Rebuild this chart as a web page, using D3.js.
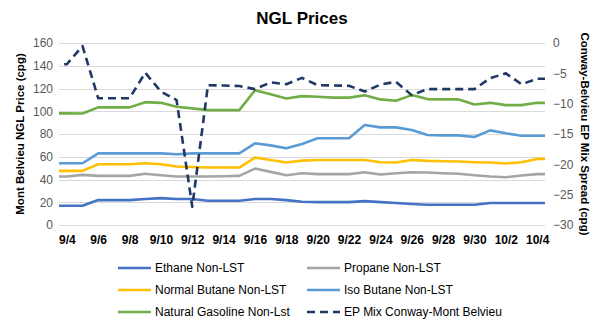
<!DOCTYPE html>
<html>
<head>
<meta charset="utf-8">
<script src="https://cdn.jsdelivr.net/npm/d3@7/dist/d3.min.js"></script>
<style>
html,body{margin:0;padding:0;background:#fff;}
svg{display:block;}
</style>
</head>
<body>
<svg id="chart" width="603" height="322"></svg>
<script>
// ---- data (daily, 9/3 .. 10/5; plot window shows 9/4 .. 10/4) ----
const dates = ["9/3","9/4","9/5","9/6","9/7","9/8","9/9","9/10","9/11","9/12","9/13","9/14","9/15","9/16","9/17","9/18","9/19","9/20","9/21","9/22","9/23","9/24","9/25","9/26","9/27","9/28","9/29","9/30","10/1","10/2","10/3","10/4","10/5"];
const ethane   = [16.9,16.9,16.9,21.9,21.9,21.9,22.8,23.6,22.8,22.8,21.3,21.3,21.3,22.8,22.8,21.9,20.4,20.1,20.1,20.1,21.0,20.1,19.3,18.4,17.8,17.8,17.8,17.8,19.3,19.3,19.3,19.3,19.3];
const propane  = [42.6,42.6,44.1,43.2,43.2,43.2,45.0,43.8,42.6,42.6,42.6,42.8,43.2,49.6,46.7,43.8,45.5,44.7,44.7,44.7,46.4,44.4,45.5,46.4,46.1,45.5,45.0,43.8,42.6,42.0,43.5,44.7,44.7];
const nbutane  = [47.6,47.6,47.6,53.4,53.4,53.4,54.3,53.4,51.4,51.0,50.5,50.5,50.5,59.3,57.2,54.9,56.6,57.2,57.2,57.2,57.2,55.2,54.9,57.2,56.4,56.0,55.8,55.2,54.9,54.0,55.2,58.1,58.1];
const ibutane  = [54.3,54.3,54.3,63.0,63.0,63.0,63.0,63.0,62.2,63.0,63.0,63.0,63.0,71.8,70.0,67.4,71.2,76.2,76.2,76.2,87.9,85.8,85.8,83.5,79.1,78.8,78.8,77.4,83.2,80.6,78.5,78.5,78.5];
const natgas   = [98.1,98.1,98.0,103.4,103.4,103.4,108.0,107.4,104.0,102.5,101.0,101.0,101.0,118.5,115.0,111.2,113.3,112.7,112.0,112.0,114.0,110.4,109.2,114.2,110.7,110.4,110.4,106.0,107.4,105.4,105.4,107.4,107.4];
const epMix    = [-3.5,-3.5,-0.5,-9.1,-9.1,-9.1,-4.9,-8.0,-9.4,-27.0,-6.95,-7.0,-7.1,-7.6,-6.5,-6.8,-5.75,-6.95,-7.0,-7.06,-8.0,-6.85,-6.4,-8.6,-7.6,-7.6,-7.6,-7.6,-5.8,-5.0,-6.8,-5.9,-5.9];

const xTickLabels = ["9/4","9/6","9/8","9/10","9/12","9/14","9/16","9/18","9/20","9/22","9/24","9/26","9/28","9/30","10/2","10/4"];
const leftTicks  = [0,20,40,60,80,100,120,140,160];
const rightTicks = [0,-5,-10,-15,-20,-25,-30];

const seriesNames  = ["Ethane Non-LST","Propane Non-LST","Normal Butane Non-LST","Iso Butane Non-LST","Natural Gasoline Non-Lst","EP Mix Conway-Mont Belvieu"];
const seriesColors = ["#4472C4","#A5A5A5","#FFC000","#5B9BD5","#70AD47","#203864"];

// ---- layout ----
const svg = d3.select("#chart");
const M = {left:59, right:545, top:43, bottom:225};
const font = "'Liberation Sans Narrow','Liberation Sans',Arial,sans-serif";
const parse = d3.utcParse("%m/%d");
const D = dates.map(parse);
const half = 12*3600*1000;

const x = d3.scaleUtc()
  .domain([new Date(parse("9/4").getTime()-half), new Date(parse("10/4").getTime()+half)])
  .range([M.left, M.right]);
const yL = d3.scaleLinear().domain([0,160]).range([M.bottom, M.top]);
const yR = d3.scaleLinear().domain([-30,0]).range([M.bottom, M.top]);

// title
svg.append("text").attr("x",302).attr("y",24).attr("text-anchor","middle")
  .attr("font-family",font).attr("font-weight","bold").attr("font-size",17)
  .attr("fill","#000").text("NGL Prices");

// gridlines
svg.append("g").selectAll("line").data(leftTicks).join("line")
  .attr("x1",M.left).attr("x2",M.right)
  .attr("y1",d=>Math.round(yL(d))+0.5).attr("y2",d=>Math.round(yL(d))+0.5)
  .attr("stroke","#D9D9D9").attr("stroke-width",1);

// left axis
const gl = svg.append("g").attr("transform",`translate(${M.left-6},0)`)
  .call(d3.axisLeft(yL).tickValues(leftTicks).tickSize(0).tickPadding(0));
gl.select(".domain").remove();
gl.selectAll("text").attr("font-family",font).attr("font-size",12).attr("fill","#595959");

// right axis
const gr = svg.append("g").attr("transform",`translate(${M.right+8},0)`)
  .call(d3.axisRight(yR).tickValues(rightTicks).tickSize(0).tickPadding(0));
gr.select(".domain").remove();
gr.selectAll("text").attr("font-family",font).attr("font-size",12).attr("fill","#595959");

// bottom axis
const gx = svg.append("g").attr("transform",`translate(0,${M.bottom+6})`)
  .call(d3.axisBottom(x).tickValues(xTickLabels.map(parse)).tickFormat(d3.utcFormat("%-m/%-d")).tickSize(0).tickPadding(4));
gx.select(".domain").remove();
gx.selectAll("text").attr("font-family",font).attr("font-size",12).attr("font-weight","bold").attr("fill","#000");

// axis titles
svg.append("text").attr("transform",`translate(24,${(M.top+M.bottom)/2}) rotate(-90)`)
  .attr("text-anchor","middle").attr("font-family",font).attr("font-weight","bold").attr("font-size",11.5)
  .attr("fill","#000").text("Mont Belvieu NGL Price (cpg)");
svg.append("text").attr("transform",`translate(581,${(M.top+M.bottom)/2}) rotate(90)`)
  .attr("text-anchor","middle").attr("font-family",font).attr("font-weight","bold").attr("font-size",11.5)
  .attr("fill","#000").text("Conway-Belvieu EP Mix Spread (cpg)");

// clip
svg.append("clipPath").attr("id","plotclip").append("rect")
  .attr("x",M.left).attr("y",0).attr("width",M.right-M.left).attr("height",322);

const plot = svg.append("g").attr("clip-path","url(#plotclip)");
const leftSeries = [ethane, propane, nbutane, ibutane, natgas];
leftSeries.forEach((vals,i)=>{
  const line = d3.line().x((d,j)=>x(D[j])).y(d=>yL(d));
  plot.append("path").datum(vals).attr("d",line).attr("fill","none")
    .attr("stroke",seriesColors[i]).attr("stroke-width",2.6).attr("stroke-linejoin","round");
});
const lineR = d3.line().x((d,j)=>x(D[j])).y(d=>yR(d));
plot.append("path").datum(epMix).attr("d",lineR).attr("fill","none")
  .attr("stroke",seriesColors[5]).attr("stroke-width",2.6).attr("stroke-dasharray","8,5").attr("stroke-linejoin","round");

// legend
const legCols = [118, 307];
const legRows = [268, 290, 312];
const lg = svg.append("g");
seriesNames.forEach((name,i)=>{
  const cx = legCols[i%2], cy = legRows[Math.floor(i/2)];
  const ln = lg.append("line").attr("x1",cx).attr("x2",cx+33).attr("y1",cy).attr("y2",cy)
    .attr("stroke",seriesColors[i]).attr("stroke-width",2.6);
  if(i===5) ln.attr("stroke-dasharray","8,5");
  lg.append("text").attr("x",cx+37).attr("y",cy+4).attr("font-family",font).attr("font-size",12)
    .attr("fill","#000").text(name);
});
</script>
</body>
</html>
